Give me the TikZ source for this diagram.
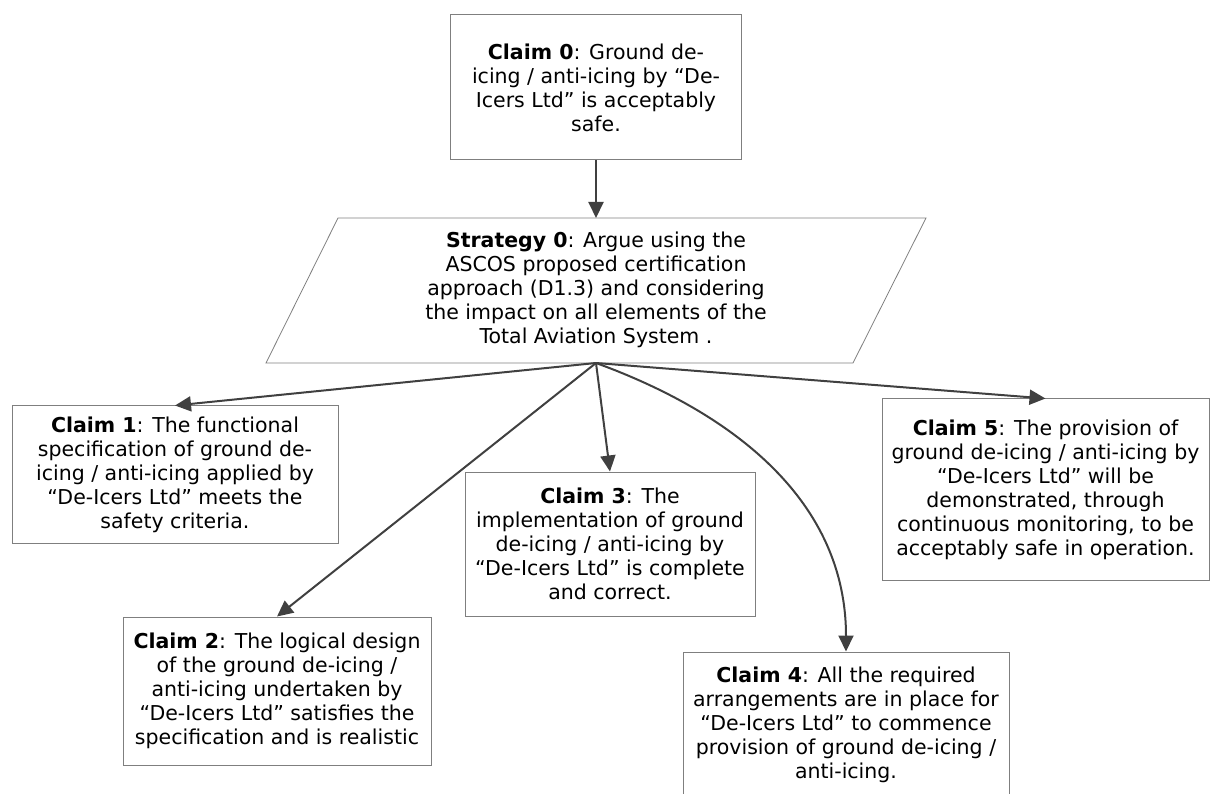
\documentclass[tikz,border=0pt]{standalone}
\usepackage{fontspec}
\setmainfont{DejaVu Sans}
\usetikzlibrary{arrows.meta}
\definecolor{boxgray}{HTML}{7F7F7F}
\definecolor{arrowgray}{HTML}{404040}
\begin{document}
\begin{tikzpicture}[x=1pt,y=-1pt,
  txt/.style={align=center, font=\fontsize{20.5}{24}\selectfont, inner sep=0pt},
  claim/.style={txt, draw=boxgray, line width=1pt},
  link/.style={draw=arrowgray, line width=2pt, -{Triangle[length=16pt,width=15pt]}}]
\useasboundingbox (0,0) rectangle (1211,794);
\clip (0,0) rectangle (1211,794);

% Claim 0
\node[claim, minimum width=291pt, minimum height=145pt] (c0) at (596,87.5)
 {\textbf{Claim 0}: Ground de-\\icing / anti-icing by “De-\\Icers Ltd” is acceptably\\safe.};

% Strategy 0 (parallelogram)
\draw[boxgray, line width=0.8pt] (338,218) -- (926,218) -- (853,363) -- (266,363) -- cycle;
\node[txt] (s) at (596,290)
 {\textbf{Strategy 0}: Argue using the\\ASCOS proposed certification\\approach (D1.3) and considering\\the impact on all elements of the\\Total Aviation System .};
\coordinate (stop) at (596,218);
\coordinate (sbot) at (596,363);

% Claims
\node[claim, minimum width=326pt, minimum height=137pt] (c1) at (175,474.5)
 {\textbf{Claim 1}: The functional\\specification of ground de-\\icing / anti-icing applied by\\“De-Icers Ltd” meets the\\safety criteria.};
\node[claim, minimum width=308pt, minimum height=148pt] (c2) at (277,691)
 {\textbf{Claim 2}: The logical design\\of the ground de-icing /\\anti-icing undertaken by\\“De-Icers Ltd” satisfies the\\specification and is realistic};
\node[claim, minimum width=290pt, minimum height=144pt] (c3) at (610,544)
 {\textbf{Claim 3}: The\\implementation of ground\\de-icing / anti-icing by\\“De-Icers Ltd” is complete\\and correct.};
\node[claim, minimum width=326pt, minimum height=146pt] (c4) at (846,725)
 {\textbf{Claim 4}: All the required\\arrangements are in place for\\“De-Icers Ltd” to commence\\provision of ground de-icing /\\anti-icing.};
\node[claim, minimum width=327pt, minimum height=181pt] (c5) at (1045.5,489.5)
 {\textbf{Claim 5}: The provision of\\ground de-icing / anti-icing by\\“De-Icers Ltd” will be\\demonstrated, through\\continuous monitoring, to be\\acceptably safe in operation.};

% Connectors
\draw[link] (c0.south) -- (stop);
\draw[link] (sbot) -- (c1.north);
\draw[link] (sbot) -- (c2.north);
\draw[link] (sbot) -- (c3.north);
\draw[link] (sbot) to[out=-20, in=90] (c4.north);
\draw[link] (sbot) -- (c5.north);
\end{tikzpicture}
\end{document}
